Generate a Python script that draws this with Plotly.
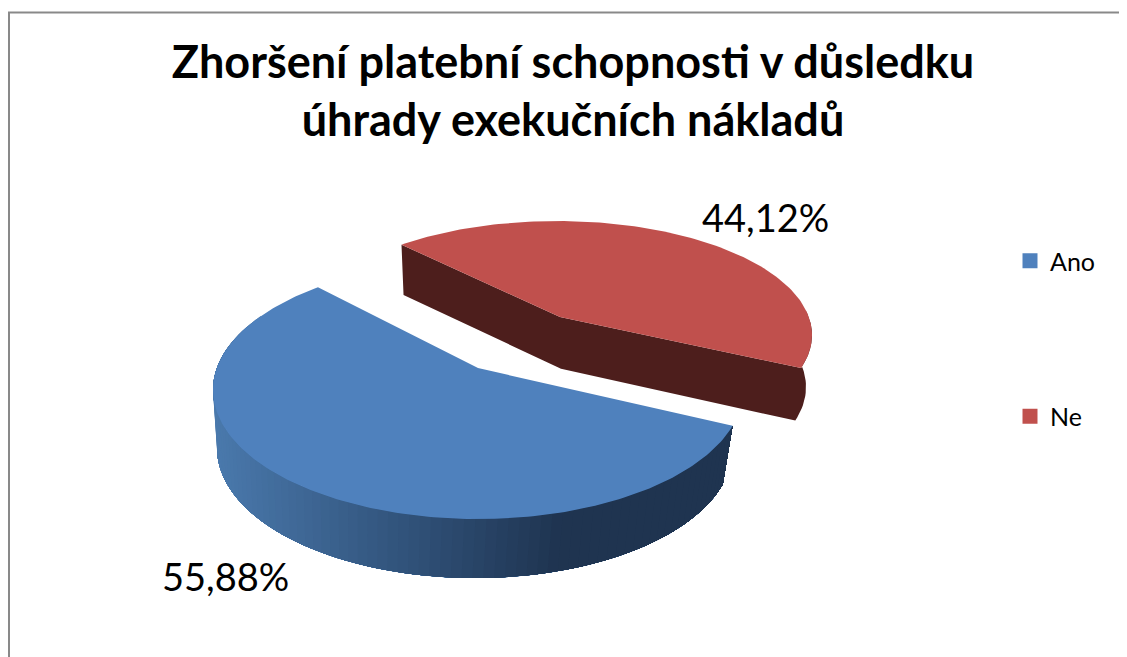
import numpy as np
import plotly.graph_objects as go

# --- data ---
TITLE_LINES = ["Zhoršení platební schopnosti v důsledku", "úhrady exekučních nákladů"]
CATEGORIES = ["Ano", "Ne"]
VALUES = [55.88, 44.12]
LABELS = ["55,88%", "44,12%"]
COLORS = ["#4F81BD", "#C0504D"]

# --- 3-D pie geometry (pixels on the axes below) ---
START_DEG = 133.5
BLUE_TOP = dict(cx=478, cy=390, a=265, b=129, k=0.17)
BLUE_BOT = dict(cx=475, cy=448, a=258, b=130, k=0.17)
RED_TOP = dict(cx=557, cy=335, a=255, b=114, k=0.158)
RED_BOT = dict(cx=556, cy=387, a=250, b=116, k=0.158)
RED_SIDE = "#4D1E1C"
GRAD_STOPS = [(219, (74, 121, 172)), (400, (50, 84, 124)), (560, (31, 52, 80)), (735, (31, 53, 80))]

PAGE_MARGIN = 8  # the page body offsets the figure
FIG_W = 1127 - PAGE_MARGIN
FIG_H = 657 - PAGE_MARGIN


def rim(e, deg):
    """Point on the rim for a pie angle, with perspective (back compressed)."""
    t = np.radians(np.asarray(deg, dtype=float))
    x, y = np.cos(t), np.sin(t)
    d = 1 + e["k"] * y
    xp = x * np.sqrt(1 - e["k"] ** 2) / d
    yp = (y + e["k"]) / d
    return e["cx"] + e["a"] * xp, e["cy"] - e["b"] * yp


def apex(e):
    return e["cx"], e["cy"] - e["b"] * e["k"]


def poly(xs, ys, color, lw=0):
    return go.Scatter(x=list(xs), y=list(ys), mode="lines", fill="toself", fillcolor=color,
                      line=dict(color=color, width=lw), showlegend=False, hoverinfo="skip")


def grad_color(x):
    xs = [s[0] for s in GRAD_STOPS]
    rgb = [np.interp(x, xs, [s[1][i] for s in GRAD_STOPS]) for i in range(3)]
    return "rgb(%d,%d,%d)" % tuple(rgb)


total = sum(VALUES)
blue_span = VALUES[0] / total * 360
blue_end = START_DEG + blue_span
red_start = blue_end - 360

fig = go.Figure()

# red slice: side faces, then top
xb, yb = rim(RED_BOT, np.linspace(red_start, 3, 20))
xt, yt = rim(RED_TOP, np.linspace(3, red_start, 10))
a_b = apex(RED_BOT)
a_t = apex(RED_TOP)
lt_top = rim(RED_TOP, START_DEG)
lt_bot = rim(RED_BOT, START_DEG)
side_x = [lt_top[0], lt_bot[0], a_b[0] + 5] + list(xb) + list(xt) + [a_t[0] + 3]
side_y = [lt_top[1], lt_bot[1], a_b[1]] + list(yb) + list(yt) + [a_t[1]]
fig.add_trace(poly(side_x, side_y, RED_SIDE))
xr, yr = rim(RED_TOP, np.linspace(red_start, START_DEG, 120))
fig.add_trace(poly([a_t[0] + 3] + list(xr), [a_t[1]] + list(yr), COLORS[1]))

# blue slice: shaded outer wall in overlapping strips, then top
edges = np.linspace(START_DEG + 20, blue_end, 90)
step = edges[1] - edges[0]
for d0 in edges[:-1]:
    # each strip runs to the wall's end, so no seams show between neighbours
    arc = np.linspace(d0, blue_end, 2 + int((blue_end - d0) / step))
    x0, y0 = rim(BLUE_TOP, arc)
    x1, y1 = rim(BLUE_BOT, arc[::-1])
    px, _ = rim(BLUE_TOP, [d0, d0 + step])
    qx, _ = rim(BLUE_BOT, [d0, d0 + step])
    col = grad_color((px.mean() + qx.mean()) / 2)
    fig.add_trace(poly(list(x0) + list(x1), list(y0) + list(y1), col))
xr, yr = rim(BLUE_TOP, np.linspace(START_DEG, blue_end, 200))
a_t = apex(BLUE_TOP)
fig.add_trace(poly([a_t[0]] + list(xr), [a_t[1]] + list(yr), COLORS[0]))

# legend entries
for name, col in zip(CATEGORIES, COLORS):
    fig.add_trace(go.Scatter(x=[None], y=[None], mode="markers", name=name, legendgroup=name,
                             marker=dict(symbol="square", size=15, color=col)))

FONT = "Lato, Carlito, Calibri, sans-serif"
fig.update_layout(
    width=FIG_W, height=FIG_H, autosize=False,
    margin=dict(l=0, r=0, t=0, b=0),
    paper_bgcolor="white", plot_bgcolor="white",
    xaxis=dict(range=[PAGE_MARGIN, 1127], visible=False, fixedrange=True),
    yaxis=dict(range=[657, PAGE_MARGIN], visible=False, fixedrange=True),
    title=dict(text="<br>".join(TITLE_LINES), x=(573 - PAGE_MARGIN) / FIG_W, xanchor="center",
               y=1 - 69.5 / FIG_H, yanchor="top",
               font=dict(family=FONT, size=45, color="black", weight="bold")),
    legend=dict(x=1002 / FIG_W, xanchor="left", y=1 - 230 / FIG_H, yanchor="top", tracegroupgap=120,
                font=dict(family=FONT, size=25, color="black"), bgcolor="rgba(0,0,0,0)"),
    shapes=[dict(type="path", path="M 9 657 L 9 12.5 L 1127 12.5", xref="x", yref="y",
                 line=dict(color="#898989", width=2))],
    annotations=[
        dict(x=225, y=575.5, xref="x", yref="y", text=LABELS[0], showarrow=False,
             font=dict(family=FONT, size=38, color="black")),
        dict(x=765, y=216.5, xref="x", yref="y", text=LABELS[1], showarrow=False,
             font=dict(family=FONT, size=38, color="black")),
    ],
)
fig.write_html("out.html", config={"displayModeBar": False})
